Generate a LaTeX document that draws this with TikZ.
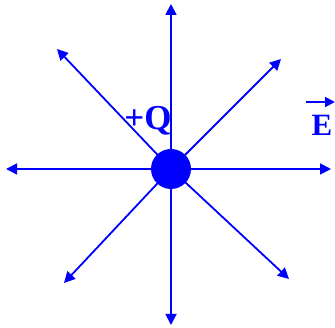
\documentclass[tikz,border=0pt]{standalone}
\usepackage{fontspec}
\setmainfont{Liberation Serif}
\usepackage{tikz}
\usetikzlibrary{arrows.meta, positioning, calc}
\definecolor{myblue}{HTML}{0000FF}
\tikzset{
	chargenode/.style={
			circle,
			draw=none,
			fill=myblue,
			minimum size=40pt,
			inner sep=0pt
		},
	fieldline/.style={
			draw=myblue,
			line width=1.8pt,
			-{Triangle[length=11pt,width=11pt]}
		},
	labelnode/.style={
			text=myblue,
			inner sep=0pt,
			font=\bfseries\fontsize{35}{37}\selectfont
		}
}

\begin{document}
\begin{tikzpicture}[x=1pt, y=1pt]
				\useasboundingbox (0, 0) rectangle (335, 328);
				\coordinate (q) at (171, 159);

				\coordinate (up) at (171, 324);
				\coordinate (down) at (171, 3);
				\coordinate (left) at (6, 159);
				\coordinate (right) at (331, 159);
				\coordinate (upleft) at (57, 279);
				\coordinate (upright) at (281, 269);
				\coordinate (downleft) at (64, 45);
				\coordinate (downright) at (289, 49);

				\foreach \tip in {up, down, left, right, upleft, upright, downleft, downright}
					\draw[fieldline] (q) -- (\tip);

				\node[chargenode] (charge) at (q) {};
				\node[labelnode] (plusq) at (148, 207) {+Q};
				\node[labelnode, font=\bfseries\fontsize{31}{33}\selectfont] (efield) at (322, 203) {E};
				\draw[fieldline, -{Triangle[length=10pt,width=10pt]}] ($(efield.center)+(-16, 23)$) -- ($(efield.center)+(13, 23)$);
			\end{tikzpicture}
\end{document}
